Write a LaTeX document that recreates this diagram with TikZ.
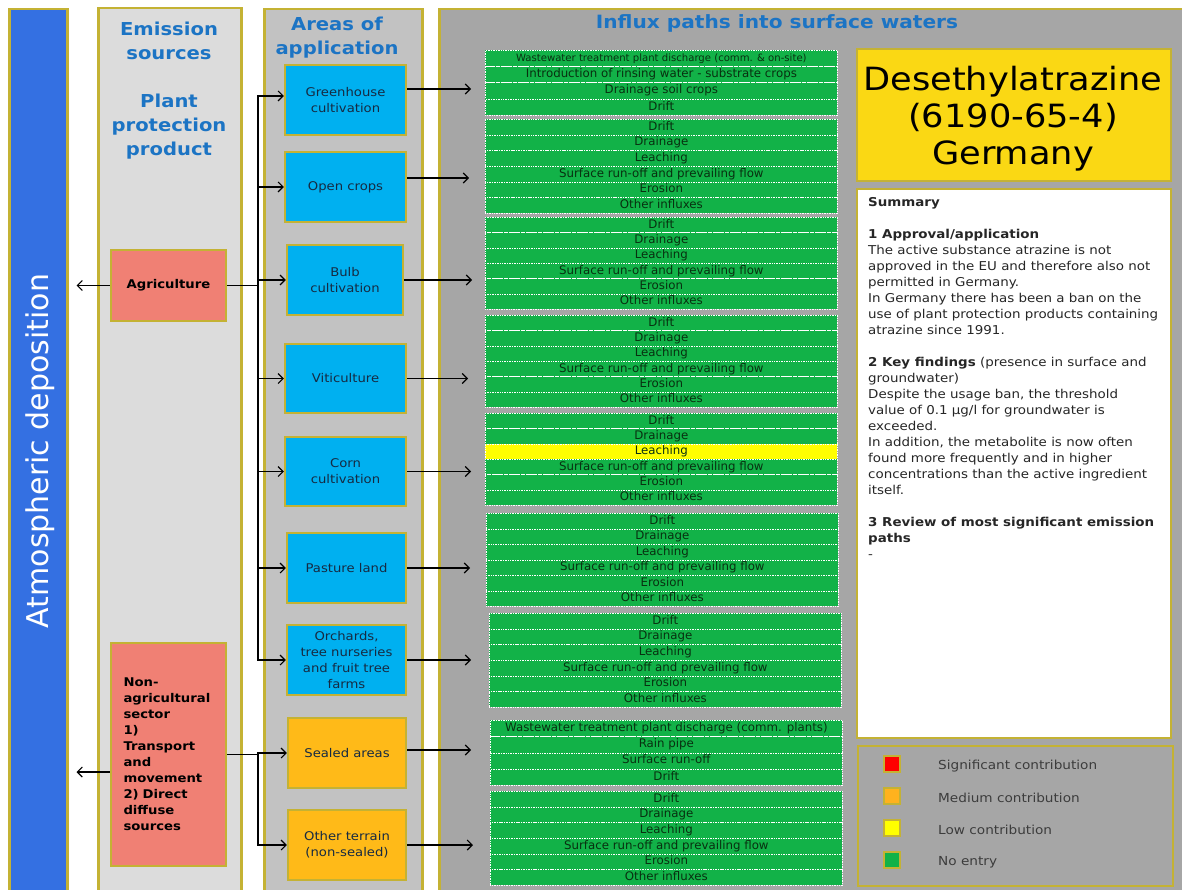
\documentclass[tikz,border=0pt]{standalone}
\usepackage{fontspec}
\setmainfont{DejaVu Sans}[FakeStretch=1.1]
\newfontfamily\atmfont{DejaVu Sans}
\newfontfamily\barfont{DejaVu Sans}
\usetikzlibrary{arrows.meta}
\definecolor{atmblue}{RGB}{52,112,226}
\definecolor{goldb}{RGB}{196,178,52}
\definecolor{emigray}{RGB}{220,220,220}
\definecolor{areagray}{RGB}{194,194,194}
\definecolor{influxgray}{RGB}{166,166,166}
\definecolor{headblue}{RGB}{28,116,196}
\definecolor{boxblue}{RGB}{0,176,240}
\definecolor{salmon}{RGB}{240,128,116}
\definecolor{boxorange}{RGB}{255,186,24}
\definecolor{bargreen}{RGB}{18,178,72}
\definecolor{bartext}{RGB}{8,48,16}
\definecolor{baryellow}{RGB}{255,255,0}
\definecolor{titleyellow}{RGB}{250,216,20}
\definecolor{legtext}{RGB}{60,60,60}
\definecolor{boxtext}{RGB}{22,42,66}
\definecolor{legred}{RGB}{255,0,0}
\definecolor{legorange}{RGB}{255,178,30}
\newcommand\smallrow{\fontsize{10.1}{11}\selectfont}
\newcommand\bargroup[6]{%
  \node[inner sep=0, minimum width=352pt, minimum height={#4*#5}, anchor=north west] (#1) at (#2,#3) {};
  \foreach \t/\c [count=\i] in {#6} {
    \node[bar, fill=\c, minimum height=#4] (#1r\i) at (#2,{#3+(\i-1)*#4}) {\t};
  }%
}
\begin{document}
\begin{tikzpicture}[x=1pt,y=-1pt,
  col/.style={draw=goldb, line width=2.5pt, inner sep=0, anchor=north west},
  areabox/.style={draw=goldb, line width=2.4pt, fill=boxblue, text=boxtext, minimum height=70pt, align=center, inner sep=0, font=\fontsize{12}{16}\selectfont},
  srcbox/.style={draw=goldb, line width=2.2pt, fill=salmon, text=black, inner sep=0, minimum width=115pt, font=\bfseries\fontsize{12}{16}\selectfont},
  bar/.style={fill=bargreen, draw=white, densely dotted, line width=0.7pt, minimum width=352pt, inner sep=0, text=bartext, anchor=north west, text height=8.5pt, text depth=2.5pt, font=\barfont\fontsize{11.8}{12}\selectfont},
  arr/.style={-{Straight Barb[length=5pt,width=10pt]}, line width=1.1pt, black},
  ln/.style={line width=1.1pt, black},
  head/.style={text=headblue, font=\bfseries\fontsize{17.8}{24}\selectfont, align=center},
  legsq/.style={draw=goldb, line width=2.3pt, minimum size=16pt, inner sep=0},
  legtxt/.style={text=legtext, anchor=west, inner sep=0, font=\fontsize{12.4}{14}\selectfont}
]
\useasboundingbox (0,0) rectangle (1182,890);
\clip (0,0) rectangle (1182,890);
\fill[white] (0,0) rectangle (1182,890);

% columns
\node[col, fill=atmblue, minimum width=58pt, minimum height=900pt] (atm) at (8,8) {};
\node[col, fill=emigray, minimum width=143pt, minimum height=900pt] (emi) at (97,7) {};
\node[col, fill=areagray, minimum width=158pt, minimum height=900pt] (area) at (263,8) {};
\node[col, fill=influxgray, minimum width=760pt, minimum height=900pt] (influx) at (438,8) {};

\node[rotate=90, text=white, font=\atmfont\fontsize{30}{34}\selectfont] (atmt) at (40,451) {Atmospheric deposition};

% headers
\node[head] (h1) at (169,41) {Emission\\sources};
\node[head] (h2) at (169,127) {Plant\\protection\\product};
\node[head] (h3) at (337,38) {Areas of\\application};
\node[head, font=\bfseries\fontsize{18.3}{24}\selectfont] (h4) at (777,23) {Influx paths into surface waters};

% sources
\node[srcbox, minimum height=71pt] (agr) at (168.5,285.5) {Agriculture};
\node[srcbox, minimum height=223pt, align=left, text width=90pt] (nonag) at (168.5,754.5) {Non-\\agricultural\\sector\\1)\\Transport\\and\\movement\\2) Direct\\diffuse\\sources};

% areas of application
\node[areabox, minimum width=121pt] (gh) at (345.5,100) {Greenhouse\\cultivation};
\node[areabox, minimum width=121pt] (oc) at (345.5,187) {Open crops};
\node[areabox, minimum width=116pt] (bulb) at (345,280) {Bulb\\cultivation};
\node[areabox, minimum width=121pt, minimum height=69pt] (viti) at (345.5,378.5) {Viticulture};
\node[areabox, minimum width=121pt, minimum height=69pt] (corn) at (345.5,471.5) {Corn\\cultivation};
\node[areabox, minimum width=119pt] (past) at (346.5,568) {Pasture land};
\node[areabox, minimum width=119pt] (orch) at (346.5,660) {Orchards,\\tree nurseries\\and fruit tree\\farms};
\node[areabox, fill=boxorange, minimum width=118pt] (seal) at (347,753) {\raisebox{-6pt}{Sealed areas}};
\node[areabox, fill=boxorange, minimum width=118pt] (other) at (347,845) {Other terrain\\(non-sealed)};

% bar groups
\bargroup{grp1}{485}{50}{16.25}{4}{\smallrow Wastewater treatment plant discharge (comm. \& on-site)/bargreen, Introduction of rinsing water - substrate crops/bargreen, Drainage soil crops/bargreen, Drift/bargreen}
\bargroup{grp2}{485}{119}{15.67}{6}{Drift/bargreen, Drainage/bargreen, Leaching/bargreen, Surface run-off and prevailing flow/bargreen, Erosion/bargreen, Other influxes/bargreen}
\bargroup{grp3}{485}{217}{15.33}{6}{Drift/bargreen, Drainage/bargreen, Leaching/bargreen, Surface run-off and prevailing flow/bargreen, Erosion/bargreen, Other influxes/bargreen}
\bargroup{grp4}{485}{315}{15.33}{6}{Drift/bargreen, Drainage/bargreen, Leaching/bargreen, Surface run-off and prevailing flow/bargreen, Erosion/bargreen, Other influxes/bargreen}
\bargroup{grp5}{485}{413}{15.33}{6}{Drift/bargreen, Drainage/bargreen, Leaching/baryellow, Surface run-off and prevailing flow/bargreen, Erosion/bargreen, Other influxes/bargreen}
\bargroup{grp6}{486}{513}{15.5}{6}{Drift/bargreen, Drainage/bargreen, Leaching/bargreen, Surface run-off and prevailing flow/bargreen, Erosion/bargreen, Other influxes/bargreen}
\bargroup{grp7}{489}{613}{15.67}{6}{Drift/bargreen, Drainage/bargreen, Leaching/bargreen, Surface run-off and prevailing flow/bargreen, Erosion/bargreen, Other influxes/bargreen}
\bargroup{grp8}{490}{720}{16.25}{4}{Wastewater treatment plant discharge (comm. plants)/bargreen, Rain pipe/bargreen, Surface run-off/bargreen, Drift/bargreen}
\bargroup{grp9}{490}{791}{15.67}{6}{Drift/bargreen, Drainage/bargreen, Leaching/bargreen, Surface run-off and prevailing flow/bargreen, Erosion/bargreen, Other influxes/bargreen}

% connectors from sources
\coordinate (jA) at (258,285.5);
\draw[ln] (agr.east) -- (jA);
\draw[arr] (jA) |- ([yshift=4pt]gh.west);
\foreach \b in {oc,bulb,viti,corn,past,orch} \draw[arr] (jA) |- (\b.west);
\coordinate (jN) at (258,754.5);
\draw[ln] (nonag.east) -- (jN);
\draw[arr] (jN) |- (seal.west);
\draw[arr] (jN) |- (other.west);
\draw[arr, shorten >=8pt] (agr.west) -- (agr.west -| atm.east);
\draw[arr, shorten >=8pt] ([yshift=-17.5pt]nonag.west) -- ([yshift=-17.5pt]nonag.west -| atm.east);

% connectors to influx groups
\draw[arr, shorten >=14pt] ([yshift=11pt]gh.east) -- ([yshift=11pt]gh.east -| grp1.west);
\draw[arr, shorten >=16pt] ([yshift=9pt]oc.east) -- ([yshift=9pt]oc.east -| grp2.west);
\draw[arr, shorten >=13pt] (bulb.east) -- (bulb.east -| grp3.west);
\draw[arr, shorten >=17pt] (viti.east) -- (viti.east -| grp4.west);
\draw[arr, shorten >=14pt] (corn.east) -- (corn.east -| grp5.west);
\draw[arr, shorten >=16pt] (past.east) -- (past.east -| grp6.west);
\draw[arr, shorten >=18pt] (orch.east) -- (orch.east -| grp7.west);
\draw[arr, shorten >=19pt] ([yshift=3pt]seal.east) -- ([yshift=3pt]seal.east -| grp8.west);
\draw[arr, shorten >=17pt] (other.east) -- (other.east -| grp9.west);

% title box
\node[draw=goldb, line width=2.4pt, fill=titleyellow, minimum width=314pt, minimum height=132pt, inner sep=0, anchor=north west] (title) at (856,48) {};
\node[align=center, inner sep=0, font=\fontsize{32}{37}\selectfont] (titletxt) at (1013,119) {Desethylatrazine\\(6190-65-4)\\Germany};

% summary
\node[draw=goldb, line width=2pt, fill=white, minimum width=314pt, minimum height=549pt, inner sep=0, anchor=north west] (sumbox) at (856,188) {};
\node[anchor=north west, align=left, inner sep=0, text=black!85, font=\fontsize{12.2}{16}\selectfont] (sumtxt) at (868,197) {%
\textbf{Summary}\\[16pt]
\textbf{1 Approval/application}\\
The active substance atrazine is not\\
approved in the EU and therefore also not\\
permitted in Germany.\\
In Germany there has been a ban on the\\
use of plant protection products containing\\
atrazine since 1991.\\[16pt]
\textbf{2 Key findings} (presence in surface and\\
groundwater)\\
Despite the usage ban, the threshold\\
value of 0.1 µg/l for groundwater is\\
exceeded.\\
In addition, the metabolite is now often\\
found more frequently and in higher\\
concentrations than the active ingredient\\
itself.\\[16pt]
\textbf{3 Review of most significant emission}\\
\textbf{paths}\\
-};

% legend
\node[draw=goldb, line width=2pt, fill=influxgray, minimum width=315pt, minimum height=140pt, inner sep=0, anchor=north west] (legbox) at (857,745) {};
\node[legsq, fill=legred] (lq1) at (892,764) {};
\node[legsq, fill=legorange] (lq2) at (892,796) {};
\node[legsq, fill=baryellow] (lq3) at (892,828) {};
\node[legsq, fill=bargreen] (lq4) at (892,860) {};
\node[legtxt] (lt1) at (938,766) {Significant contribution};
\node[legtxt] (lt2) at (938,798) {Medium contribution};
\node[legtxt] (lt3) at (938,830) {Low contribution};
\node[legtxt] (lt4) at (938,862) {No entry};
\end{tikzpicture}
\end{document}
